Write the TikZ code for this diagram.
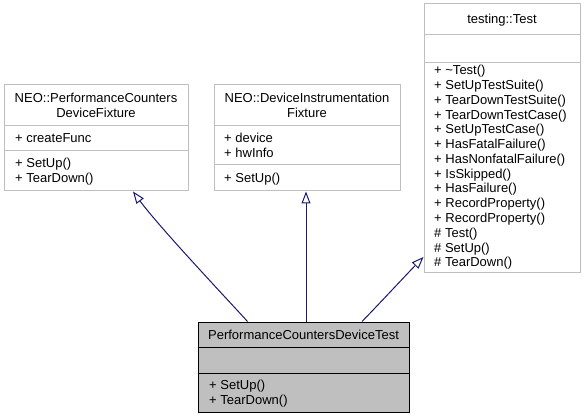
\documentclass[tikz,border=0pt]{standalone}
\usepackage{fontspec}
\setmainfont{Liberation Sans}
\usetikzlibrary{arrows.meta}
\definecolor{edgecol}{HTML}{191970}
\definecolor{boxgray}{HTML}{BFBFBF}
\tikzset{
  umlbox/.style={draw=boxgray, line width=1pt, fill=white, inner sep=0pt},
  umlcur/.style={draw=black, line width=1pt, fill=boxgray, inner sep=0pt},
  divgray/.style={draw=boxgray, line width=1pt},
  divblack/.style={draw=black, line width=1pt},
  txt/.style={inner sep=0pt, font=\fontsize{13}{14.8}\selectfont},
  ttl/.style={txt, anchor=base},
  member/.style={txt, anchor=base west},
  inh/.style={draw=edgecol, line width=1pt, -{Triangle[length=12pt,width=9pt,fill=white]}},
}
\begin{document}
\begin{tikzpicture}[x=1pt,y=-1pt]
\useasboundingbox (0,0) rectangle (585,419);
% boxes
\node[umlbox, minimum width=184pt, minimum height=106pt] (b1) at (96,138) {};
\node[umlbox, minimum width=186pt, minimum height=106pt] (b2) at (307,138) {};
\node[umlbox, minimum width=156pt, minimum height=268pt] (b3) at (502,138) {};
\node[umlcur, minimum width=211pt, minimum height=90pt] (b4) at (303.5,367) {};
% dividers
\draw[divgray] (b1.west |- 0,126) -- (b1.east |- 0,126);
\draw[divgray] (b1.west |- 0,151) -- (b1.east |- 0,151);
\draw[divgray] (b2.west |- 0,126) -- (b2.east |- 0,126);
\draw[divgray] (b2.west |- 0,165) -- (b2.east |- 0,165);
\draw[divgray] (b3.west |- 0,35) -- (b3.east |- 0,35);
\draw[divgray] (b3.west |- 0,63) -- (b3.east |- 0,63);
\draw[divblack] (b4.west |- 0,347) -- (b4.east |- 0,347);
\draw[divblack] (b4.west |- 0,373) -- (b4.east |- 0,373);
% box 1
\node[ttl] (b1t1) at (96,102.5) {NEO::PerformanceCounters};
\node[ttl] (b1t2) at (96,117.5) {DeviceFixture};
\node[member] (b1a1) at (15,143) {+ createFunc};
\node[member] (b1m1) at (15,168) {+ SetUp()};
\node[member] (b1m2) at (15,183) {+ TearDown()};
% box 2
\node[ttl] (b2t1) at (307,102.5) {NEO::DeviceInstrumentation};
\node[ttl] (b2t2) at (307,117.5) {Fixture};
\node[member] (b2a1) at (224,142.5) {+ device};
\node[member] (b2a2) at (224,157.5) {+ hwInfo};
\node[member] (b2m1) at (224,182.5) {+ SetUp()};
% box 3
\node[ttl] (b3t) at (502,24) {testing::Test};
\foreach \t [count=\i] in {+ \textasciitilde Test(), + SetUpTestSuite(), + TearDownTestSuite(),
  + TearDownTestCase(), + SetUpTestCase(), + HasFatalFailure(), + HasNonfatalFailure(),
  + IsSkipped(), + HasFailure(), + RecordProperty(), + RecordProperty(), \# Test(),
  \# SetUp(), \# TearDown()}
  \node[member] (b3m\i) at (434,{75+14.75*(\i-1)}) {\t};
% box 4
\node[ttl] (b4t) at (303.5,339) {PerformanceCountersDeviceTest};
\node[member] (b4m1) at (209,389.5) {+ SetUp()};
\node[member] (b4m2) at (209,404.5) {+ TearDown()};
% inheritance edges
\draw[inh] ([xshift=-56pt]b4.north) .. controls (228,300) and (160,228) .. ([xshift=37pt]b1.south);
\draw[inh] (b4.north -| 306,0) -- (b2.south -| 306,0);
\draw[inh] ([xshift=58.5pt]b4.north) .. controls (381,302) and (405,276) .. (b3.west |- 0,257);
\end{tikzpicture}
\end{document}
